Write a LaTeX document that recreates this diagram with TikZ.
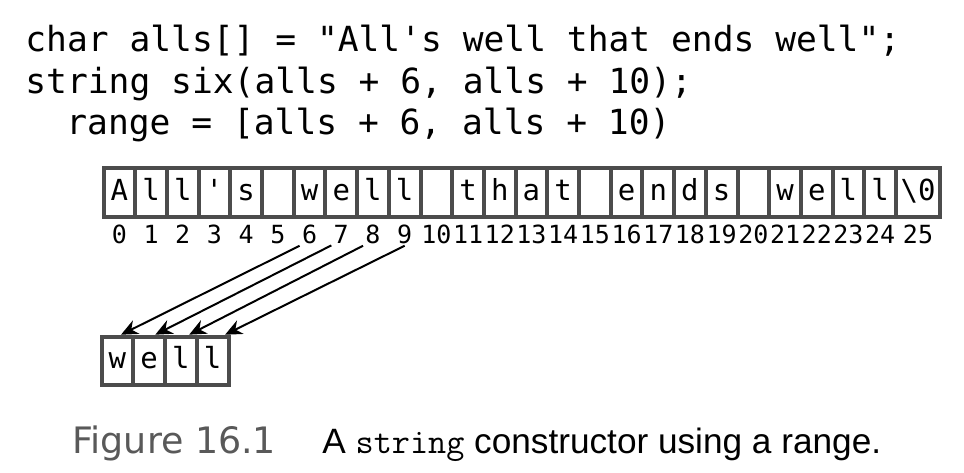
\documentclass[tikz,border=0pt]{standalone}
\usepackage{fontspec}
\usetikzlibrary{arrows.meta}
\newfontfamily\codefont{DejaVu Sans Mono}
\newfontfamily\figfont{DejaVu Sans}
\newfontfamily\capfont{Liberation Sans}
\tikzset{
  cell/.style={draw=black!70,line width=2pt,inner sep=0pt,outer sep=0pt,
    minimum width=15.85pt,minimum height=24.5pt,
    font=\codefont\fontsize{14.5}{14}\selectfont,text height=9pt,text depth=1pt},
  idx/.style={font=\codefont\fontsize{12.5}{12}\selectfont,inner sep=1pt,anchor=base},
  code/.style={font=\codefont\fontsize{17.3}{17}\selectfont,anchor=base west,inner sep=0pt}
}
\begin{document}
\begin{tikzpicture}[x=0.5pt,y=-0.5pt,>={Stealth[length=8.5pt,width=7.5pt]}]
  \useasboundingbox (0,0) rectangle (964,472);
  % source lines
  \node[code] (l1) at (25,51) {char alls[] = "All's well that ends well";};
  \node[code] (l2) at (25,93) {string six(alls + 6, alls + 10);};
  \node[code] (l3) at (66,134) {range = [alls + 6, alls + 10)};
  % the char array
  \foreach \ch [count=\i from 0] in {A,l,l,',s,{},w,e,l,l,{},t,h,a,t,{},e,n,d,s,{},w,e,l,l}
    \node[cell] (c\i) at ({119.35+31.7*\i},192) {\ch};
  \node[cell,minimum width=22pt] (c25) at (918,192) {\textbackslash0};
  \foreach \i in {0,...,24}
    \node[idx] (n\i) at ({119.35+31.7*\i},243) {\i};
  \node[idx] (n25) at (918,243) {25};
  % the new string
  \foreach \ch [count=\i from 0] in {w,e,l,l}
    \node[cell,minimum width=15.875pt,minimum height=24.25pt] (w\i) at ({117.4+31.75*\i},360.75) {\ch};
  \foreach \i/\j/\s/\a in {6/0/south west/90,7/1/south west/84,8/2/south west/79,9/3/south/70}
    \draw[->,line width=1pt,shorten >=2pt] (n\i.\s) -- (w\j.\a);
  % caption
  \node[anchor=base west,inner sep=0pt,text=black!65,font=\figfont\fontsize{18.2}{20}\selectfont]
    (fig) at (72,453) {Figure 16.1};
  \node[anchor=base west,inner sep=0pt,font=\capfont\fontsize{17.6}{20}\selectfont]
    (cap) at (322,453) {A {\ttfamily string} constructor using a range.};
\end{tikzpicture}
\end{document}
